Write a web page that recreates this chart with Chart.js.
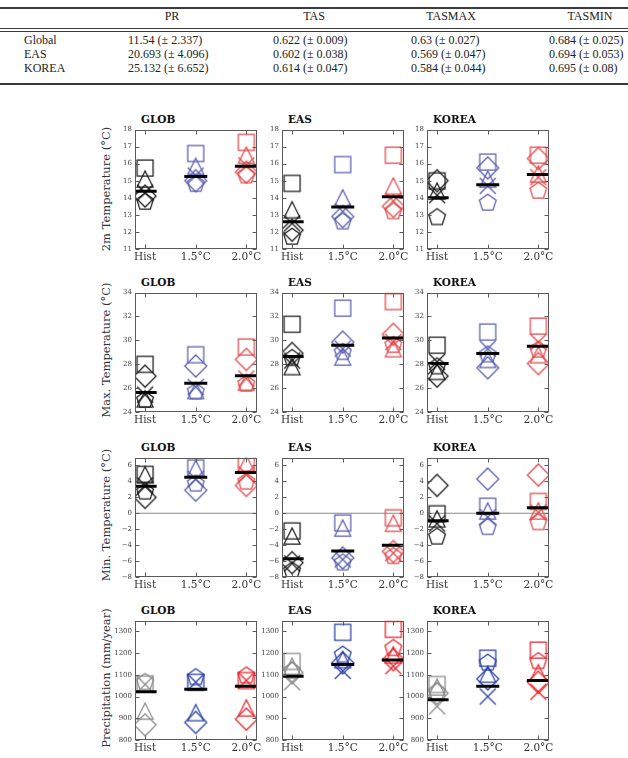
<!DOCTYPE html>
<html><head><meta charset="utf-8">
<script src="https://cdn.jsdelivr.net/npm/chart.js@4.4.1/dist/chart.umd.min.js"></script>
<style>
body{margin:0;background:#fff;width:628px;height:758px;overflow:hidden;position:relative;}
.abs{position:absolute;white-space:nowrap;}
.tbl{font-family:'Liberation Serif','Times New Roman',serif;font-size:12px;color:#222;line-height:14px;}
.hc{transform:translateX(-50%);}
.hl{position:absolute;left:0;width:628px;background:#3a3a3a;}
.ptitle{font-family:'DejaVu Serif',serif;font-weight:bold;font-size:10.5px;color:#111;line-height:12px;}
.ylab{font-family:'DejaVu Serif',serif;font-size:11.5px;color:#333;line-height:13px;transform:translate(-50%,-50%) rotate(-90deg);}
canvas{position:absolute;}
</style></head><body>
<script>
// ---------------- table data ----------------
const tableColumns = ['PR','TAS','TASMAX','TASMIN'];
const tableRowNames = ['Global','EAS','KOREA'];
const tablePR = ['11.54 (± 2.337)','20.693 (± 4.096)','25.132 (± 6.652)'];
const tableTAS = ['0.622 (± 0.009)','0.602 (± 0.038)','0.614 (± 0.047)'];
const tableTASMAX = ['0.63 (± 0.027)','0.569 (± 0.047)','0.584 (± 0.044)'];
const tableTASMIN = ['0.684 (± 0.025)','0.694 (± 0.053)','0.695 (± 0.08)'];

// ---------------- chart data ----------------
const categories = ['Hist','1.5°C','2.0°C'];
const regionNames = ['GLOB','EAS','KOREA'];
const variableLabels = ['2m Temperature (°C)','Max. Temperature (°C)','Min. Temperature (°C)','Precipitation (mm/year)'];
const markerShapes = ['square','triangle','diamond','pentagon','x']; // row order of each model array below

const yTicksTAS = [11,12,13,14,15,16,17,18];
const yTicksTASMAX = [24,26,28,30,32,34];
const yTicksTASMIN = [-8,-6,-4,-2,0,2,4,6];
const yTicksPR = [800,900,1000,1100,1200,1300];
const yRangeTAS = [11,18];
const yRangeTASMAX = [24,34];
const yRangeTASMIN = [-8,7];
const yRangePR = [800,1350];

// values: rows = square, triangle, diamond, pentagon, x ; columns = Hist, 1.5°C, 2.0°C
const tas_GLOB = [[15.75,16.6,17.25],[15.1,15.85,16.5],[14.1,15.0,15.5],[13.75,14.8,15.3],[14.3,15.3,15.9]];
const tas_GLOB_mean = [14.38,15.24,15.84];
const tas_EAS = [[14.85,15.95,16.5],[13.3,14.0,14.7],[12.1,12.9,13.5],[11.7,12.6,13.2],[12.5,13.2,13.8]];
const tas_EAS_mean = [12.6,13.46,14.06];
const tas_KOREA = [[15.0,16.1,16.5],[14.4,15.1,15.4],[15.0,15.75,16.3],[12.85,13.7,14.4],[14.15,14.7,15.2]];
const tas_KOREA_mean = [14.0,14.77,15.37];

const tasmax_GLOB = [[28.0,28.8,29.45],[25.1,25.8,26.5],[27.0,27.85,28.4],[25.0,25.7,26.35],[25.45,26.1,26.8]];
const tasmax_GLOB_mean = [25.64,26.41,27.03];
const tasmax_EAS = [[31.35,32.7,33.25],[27.8,28.6,29.3],[28.9,29.85,30.5],[28.5,29.0,29.6],[28.3,29.3,29.85]];
const tasmax_EAS_mean = [28.64,29.58,30.2];
const tasmax_KOREA = [[29.6,30.7,31.2],[27.4,28.4,28.8],[27.0,27.7,28.05],[27.8,28.8,29.2],[28.2,29.3,29.85]];
const tasmax_KOREA_mean = [28.05,28.9,29.5];

const tasmin_GLOB = [[4.9,5.7,6.3],[4.85,5.65,6.25],[2.0,2.9,3.5],[2.7,3.7,3.95],[3.5,4.3,4.9]];
const tasmin_GLOB_mean = [3.39,4.53,5.13];
const tasmin_EAS = [[-2.2,-1.2,-0.55],[-2.85,-1.85,-1.25],[-6.2,-5.6,-4.8],[-7.2,-6.2,-5.4],[-6.3,-5.8,-5.0]];
const tasmin_EAS_mean = [-5.7,-4.73,-4.0];
const tasmin_KOREA = [[-0.05,0.9,1.5],[-0.7,0.3,0.3],[3.5,4.3,4.8],[-2.95,-1.75,-1.15],[-1.3,-0.5,0.1]];
const tasmin_KOREA_mean = [-0.93,0.0,0.69];

const pr_GLOB = [[1059,1066,1074],[933,926,948],[870,881,896],[1066,1088,1096],[1056,1066,1074]];
const pr_GLOB_mean = [1022,1034,1047];
const pr_EAS = [[1162,1296,1310],[1140,1170,1192],[1110,1155,1170],[1118,1192,1222],[1066,1118,1140]];
const pr_EAS_mean = [1093,1148,1168];
const pr_KOREA = [[1056,1177,1214],[1044,1103,1110],[1015,1081,1066],[1022,1155,1162],[955,1000,1022]];
const pr_KOREA_mean = [985,1047,1074];

// ---------------- styles / layout ----------------
const colorsTemp = ['#1c1c1c','#5a5eae','#e2484c'];
const colorsPR = ['#8c8c8c','#2c40a6','#e8232b'];
const colLeft = [135,282,427];
const rowTop = [125,288,453,616];
const plotW = 124, plotH = 124;
const PADL = 34, PADT = 10, PADR = 12, PADB = 22;

const panels = [
  {vals:[tas_GLOB,tas_EAS,tas_KOREA], means:[tas_GLOB_mean,tas_EAS_mean,tas_KOREA_mean], ticks:yTicksTAS, range:yRangeTAS, colors:colorsTemp, zero:false},
  {vals:[tasmax_GLOB,tasmax_EAS,tasmax_KOREA], means:[tasmax_GLOB_mean,tasmax_EAS_mean,tasmax_KOREA_mean], ticks:yTicksTASMAX, range:yRangeTASMAX, colors:colorsTemp, zero:false},
  {vals:[tasmin_GLOB,tasmin_EAS,tasmin_KOREA], means:[tasmin_GLOB_mean,tasmin_EAS_mean,tasmin_KOREA_mean], ticks:yTicksTASMIN, range:yRangeTASMIN, colors:colorsTemp, zero:true},
  {vals:[pr_GLOB,pr_EAS,pr_KOREA], means:[pr_GLOB_mean,pr_EAS_mean,pr_KOREA_mean], ticks:yTicksPR, range:yRangePR, colors:colorsPR, zero:false}
];

function markerCanvas(shape, color){
  const S = 30, c = document.createElement('canvas');
  c.width = S; c.height = S;
  const g = c.getContext('2d');
  g.strokeStyle = color; g.lineWidth = 1.25; g.lineJoin = 'miter';
  const cx = S/2, cy = S/2, h = 8;
  g.beginPath();
  if (shape === 'square') { g.rect(cx-h, cy-h, 2*h, 2*h); }
  else if (shape === 'triangle') { g.moveTo(cx, cy-h); g.lineTo(cx+h, cy+h); g.lineTo(cx-h, cy+h); g.closePath(); }
  else if (shape === 'diamond') { const d = 11; g.moveTo(cx, cy-d); g.lineTo(cx+d, cy); g.lineTo(cx, cy+d); g.lineTo(cx-d, cy); g.closePath(); }
  else if (shape === 'pentagon') { const r = 8.8; for (let i=0;i<5;i++){ const a=-Math.PI/2+i*2*Math.PI/5; const px=cx+r*Math.cos(a), py=cy+r*Math.sin(a); if(i) g.lineTo(px,py); else g.moveTo(px,py);} g.closePath(); }
  else { g.moveTo(cx-h, cy-h); g.lineTo(cx+h, cy+h); g.moveTo(cx+h, cy-h); g.lineTo(cx-h, cy+h); }
  g.stroke();
  return c;
}

const framePlugin = {
  id: 'frame',
  afterDatasetsDraw(chart){
    const {ctx, chartArea:a, scales:{x, y}} = chart;
    ctx.save();
    ctx.strokeStyle = '#5a5a5a'; ctx.lineWidth = 1;
    const L = Math.round(a.left)+0.5, R = Math.round(a.right)-0.5, T = Math.round(a.top)+0.5, B = Math.round(a.bottom)-0.5;
    ctx.strokeRect(L, T, R-L, B-T);
    ctx.beginPath();
    y.ticks.forEach(t => { const py = Math.round(y.getPixelForValue(t.value))+0.5; ctx.moveTo(L, py); ctx.lineTo(L+4, py); ctx.moveTo(R, py); ctx.lineTo(R-4, py); });
    x.ticks.forEach(t => { const px = Math.round(x.getPixelForValue(t.value))+0.5; ctx.moveTo(px, B); ctx.lineTo(px, B-4); ctx.moveTo(px, T); ctx.lineTo(px, T+4); });
    ctx.stroke();
    ctx.restore();
  }
};

function addDiv(cls, text, left, top, extra){
  const d = document.createElement('div');
  d.className = 'abs ' + cls; d.textContent = text;
  d.style.left = left + 'px'; d.style.top = top + 'px';
  if (extra) Object.assign(d.style, extra);
  document.body.appendChild(d);
  return d;
}

// ---------------- table ----------------
function hline(top, h){ const d = document.createElement('div'); d.className='hl'; d.style.top = top+'px'; d.style.height = h+'px'; document.body.appendChild(d); }
hline(7, 2); hline(28, 1); hline(31, 1); hline(83, 2);
const headerX = [172, 314, 451, 590];
tableColumns.forEach((c,i) => addDiv('tbl hc', c, headerX[i], 9));
const valueX = [128, 273, 411, 549];
const tableCols = [tablePR, tableTAS, tableTASMAX, tableTASMIN];
const rowY = [33, 47, 61];
tableRowNames.forEach((r,ri) => {
  addDiv('tbl', r, 24, rowY[ri]);
  tableCols.forEach((col,ci) => addDiv('tbl', col[ri], valueX[ci], rowY[ri]));
});

// ---------------- panels ----------------
panels.forEach((p, ri) => {
  addDiv('ylab', variableLabels[ri], 106, rowTop[ri] + plotH/2 + (ri===0?2:0));
  regionNames.forEach((reg, ci) => {
    addDiv('ptitle', reg, colLeft[ci] + 6, rowTop[ri] - 12);
    const cv = document.createElement('canvas');
    cv.width = PADL + plotW + PADR; cv.height = PADT + plotH + PADB;
    cv.style.left = (colLeft[ci] - PADL) + 'px'; cv.style.top = (rowTop[ri] - PADT) + 'px';
    document.body.appendChild(cv);
    const datasets = [];
    if (p.zero) {
      datasets.push({type:'line', data:[{x:-0.2,y:0},{x:2.2,y:0}], borderColor:'#8a8a8a', borderWidth:1.2, pointRadius:0, order:3, clip:0});
    }
    const vals = p.vals[ci];
    markerShapes.forEach((shape, si) => {
      datasets.push({
        data: categories.map((c,k) => ({x:k, y:vals[si][k]})),
        pointStyle: categories.map((c,k) => markerCanvas(shape, p.colors[k])),
        pointRadius: 8, order: 2, clip: 0
      });
    });
    datasets.push({
      data: categories.map((c,k) => ({x:k, y:p.means[ci][k]})),
      pointStyle: 'line', pointRadius: 11.5, pointBorderWidth: 3, pointBorderColor: '#000', order: 1, clip: 0
    });
    new Chart(cv, {
      type: 'scatter',
      data: {datasets},
      options: {
        responsive: false, animation: false, devicePixelRatio: 1,
        layout: {padding: {left:0, top:PADT, right:PADR, bottom:0}},
        plugins: {legend:{display:false}, tooltip:{enabled:false}},
        events: [],
        scales: {
          x: {
            type:'linear', min:-0.2, max:2.2, offset:false,
            afterBuildTicks: s => { s.ticks = categories.map((c,k) => ({value:k})); },
            afterFit: s => { s.height = PADB; },
            grid: {display:false, drawTicks:false}, border:{display:false},
            ticks: {callback: v => categories[v], font:{family:'DejaVu Serif', size:10.5}, color:'#333', padding:2, maxRotation:0, autoSkip:false}
          },
          y: {
            type:'linear', min:p.range[0], max:p.range[1],
            afterBuildTicks: s => { s.ticks = p.ticks.map(v => ({value:v})); },
            afterFit: s => { s.width = PADL; },
            grid: {display:false, drawTicks:false}, border:{display:false},
            ticks: {callback: v => (v < 0 ? '\u2212' + Math.abs(v) : String(v)), font:{family:'DejaVu Serif', size:7}, color:'#444', padding:3, autoSkip:false}
          }
        }
      },
      plugins: [framePlugin]
    });
  });
});
</script>
</body></html>
